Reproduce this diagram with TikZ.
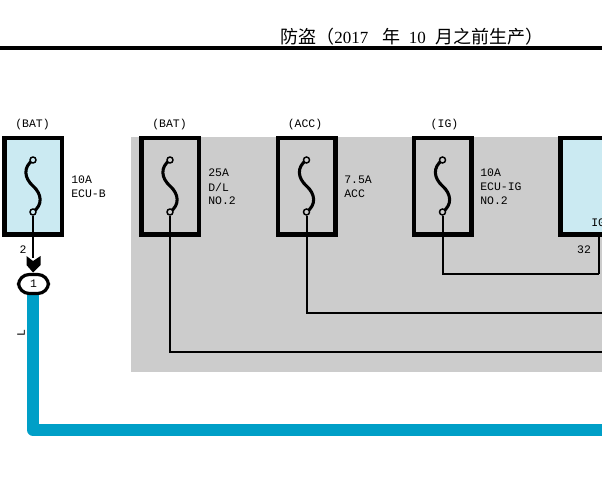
\documentclass[tikz,border=0pt]{standalone}
\usepackage{fontspec}
\usetikzlibrary{calc}
\setmainfont{Liberation Mono}
\newfontfamily\cjk{Noto Sans CJK SC}
\newfontfamily\hdr{Liberation Serif}
\definecolor{greybg}{HTML}{CCCCCC}
\definecolor{paleblue}{HTML}{CBEAF2}
\definecolor{wireblue}{HTML}{009FC7}
\tikzset{
  fusebox/.style={draw=black,line width=4.5*0.75pt,minimum width=57.5*0.75pt,minimum height=96.5*0.75pt,inner sep=0pt,anchor=north west},
  pin/.style={circle,draw=black,line width=1.1pt,minimum size=6*0.75pt,inner sep=0pt},
  lab/.style={font=\fontsize{8.6pt}{10pt}\selectfont,inner sep=0pt,text=black},
  lft/.style={lab,anchor=west},
  wire/.style={draw=black,line width=1.5pt},
  fuseline/.style={draw=black,line width=2.3pt}
}
\newcommand{\fuse}[3]{% name, box left, fill
  \node[fusebox,fill=#3] (#1) at (#2,136) {};
  \coordinate (#1m) at (#2+31,186);
  \draw[fuseline] (#2+31,160) .. controls +(-10,7) and +(-9,-8) .. (#1m) .. controls +(9,8) and +(10,-7) .. (#2+31,212);
  \node[pin,fill=#3] (#1t) at (#2+31,160) {};
  \node[pin,fill=#3] (#1b) at (#2+31,212) {};
}
\begin{document}
\begin{tikzpicture}[x=0.75pt,y=-0.75pt]
\clip (0,0) rectangle (602,484);
\fill[white] (0,0) rectangle (602,484);
\coordinate (r0) at (0,48);
\coordinate (r1) at (602,48);
\draw[line width=3.4pt] (r0) -- (r1);
\fill[greybg] (131,137) rectangle (602,372);
\node[anchor=west,inner sep=0pt] (hd) at (280,37) {\fontsize{13.5pt}{15pt}\selectfont\cjk 防盗（\fontsize{12.75pt}{15pt}\selectfont\hdr 2017\hspace{10.5pt}\fontsize{13.5pt}{15pt}\selectfont\cjk 年\hspace{6.5pt}\fontsize{12.75pt}{15pt}\selectfont\hdr 10\hspace{7.5pt}\fontsize{13.5pt}{15pt}\selectfont\cjk 月之前生产）};
\coordinate (w3r) at (602,352);
\coordinate (w2r) at (602,313);
\coordinate (w1r) at (599,273.5);
\fuse{fa}{2}{paleblue}
\fuse{fb}{139}{greybg}
\fuse{fc}{275.5}{greybg}
\fuse{fd}{411.5}{greybg}
\node[fusebox,fill=paleblue] (fe) at (558,136) {};
\draw[wire] (fbb) |- (w3r);
\draw[wire] (fcb) |- (w2r);
\draw[wire] (fdb) |- (w1r);
\draw[wire] (w1r) -- (599,236);
\coordinate (bw) at (602,430);
\draw[wireblue,line width=9pt,line join=round] (33,294) -- (33,430) -- (bw);
\node[draw=black,line width=2.4pt,rounded corners=8pt,minimum width=30*0.75pt,minimum height=19*0.75pt,inner sep=0pt,fill=white,font=\fontsize{8.6pt}{10pt}\selectfont] (conn) at (33.5,284) {1};
\draw[line width=1.5pt] (fab) -- (33,258);
\fill (26.5,256) -- (33,261) -- (40.5,256) -- (40.5,265) -- (33,272.5) -- (26.5,265) -- cycle;
\node[lab] (l1) at (32.5,124.5) {(BAT)};
\node[lab] (l2) at (169.5,124.5) {(BAT)};
\node[lab] (l3) at (305,124.5) {(ACC)};
\node[lab] (l4) at (444.5,124.5) {(IG)};
\node[lft] (a1) at (71,180) {10A};
\node[lft] (a2) at (71,194) {ECU-B};
\node[lft] (b1) at (208,173) {25A};
\node[lft] (b2) at (208,187) {D/L};
\node[lft] (b3) at (208,200.5) {NO.2};
\node[lft] (c1) at (344,180) {7.5A};
\node[lft] (c2) at (344,194) {ACC};
\node[lft] (d1) at (480,173) {10A};
\node[lft] (d2) at (480,187) {ECU-IG};
\node[lft] (d3) at (480,200.5) {NO.2};
\node[lft] (e1) at (591,223) {IG};
\node[lab] (n2) at (23,249.5) {2};
\node[lab] (n32) at (584,250) {32};
\node[lab,rotate=90] (nl) at (21,333) {L};
\end{tikzpicture}
\end{document}
